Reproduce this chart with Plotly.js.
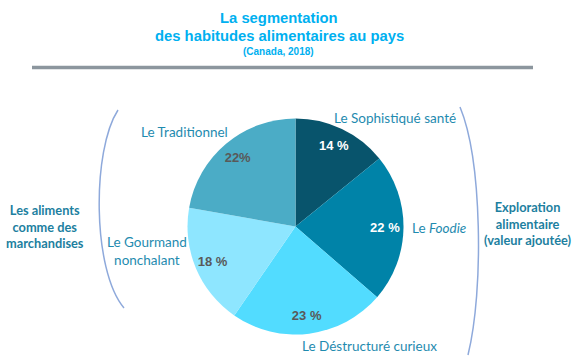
<!DOCTYPE html>
<html><head><meta charset="utf-8">
<script src="https://cdn.plot.ly/plotly-3.0.1.min.js"></script>
<style>html,body{margin:0;padding:0;background:#fff;}#chart{width:580px;height:361px;}</style>
</head><body><div id="chart"></div>
<script>
var segments = ['Le Sophistiqué santé', 'Le Foodie', 'Le Déstructuré curieux', 'Le Gourmand nonchalant', 'Le Traditionnel'];
var shares = [14, 22, 23, 18, 22];
var pctLabels = ['14 %', '22 %', '23 %', '18 %', '22%'];
var sliceColors = ['#08546C', '#0083A8', '#52DCFF', '#8EE6FF', '#4BACC6'];
var pctColors = ['#FFFFFF', '#FFFFFF', '#595959', '#595959', '#595959'];
var W = 580, H = 361;
function px(x){return x/W;}
function py(y){return 1 - y/H;}
var cx = 295.5, cy = 226.5, R = 108;
var pieDomain = {x: [px(cx - R), px(cx + R)], y: [py(cy + R), py(cy - R)]};

var slices = {
  type: 'pie', values: shares, labels: segments,
  textinfo: 'none', sort: false, direction: 'clockwise', rotation: 0,
  marker: {colors: sliceColors, line: {width: 0}},
  hoverinfo: 'label+percent', showlegend: false, domain: pieDomain
};
// transparent ring on top: carries the percentage labels near the rim
var pctRing = {
  type: 'pie', values: shares, labels: segments, text: pctLabels,
  textinfo: 'text', textposition: 'inside', insidetextorientation: 'horizontal',
  sort: false, direction: 'clockwise', rotation: 0, hole: 0.66,
  marker: {colors: shares.map(function(){return 'rgba(0,0,0,0)';}), line: {width: 0}},
  insidetextfont: {family: 'Liberation Sans, Arial, sans-serif', size: 13, color: pctColors, weight: 'bold'},
  hoverinfo: 'skip', showlegend: false, domain: pieDomain
};

var labFont = {family: 'Lato, sans-serif', size: 13.5, color: '#1F8BAF'};
var sideFont = {family: 'Lato, sans-serif', size: 12.8, color: '#1D7FA0', weight: 'bold'};
var titleFont = {family: 'Liberation Sans, Arial, sans-serif', size: 14.8, color: '#00B0F0', weight: 'bold'};
function ann(t, x, y, f, anchor){return {text: t, x: px(x), y: py(y), xref: 'paper', yref: 'paper', showarrow: false, font: f, xanchor: anchor || 'center', yanchor: 'middle'};}

var annotations = [
  ann('La segmentation', 279, 18, titleFont),
  ann('des habitudes alimentaires au pays', 279, 35.5, titleFont),
  ann('(Canada, 2018)', 278, 52, {family: 'Liberation Sans, Arial, sans-serif', size: 10, color: '#00B0F0', weight: 'bold'}),
  ann(segments[0], 332, 118, labFont, 'left'),
  ann('Le <i>Foodie</i>', 410, 228, labFont, 'left'),
  ann(segments[2], 300, 346, labFont, 'left'),
  ann('Le Gourmand<br>nonchalant', 147, 251, labFont),
  ann(segments[4], 184, 131.5, labFont),
  ann('Les aliments<br>comme des<br>marchandises', 45, 226, sideFont),
  ann('Exploration<br>alimentaire<br>(valeur ajoutée)', 528, 223, sideFont)
];

function cubic(p){
  return 'M' + px(p[0]) + ',' + py(p[1]) + ' C' + px(p[2]) + ',' + py(p[3]) + ' ' + px(p[4]) + ',' + py(p[5]) + ' ' + px(p[6]) + ',' + py(p[7]);
}
var shapes = [
  {type: 'line', xref: 'paper', yref: 'paper', x0: px(32), x1: px(533), y0: py(67.5), y1: py(67.5), line: {color: '#8C969E', width: 3.5}},
  {type: 'path', xref: 'paper', yref: 'paper', path: cubic([118,110, 92,150, 92,270, 124,308]), line: {color: '#8EA9DB', width: 1.5}},
  {type: 'path', xref: 'paper', yref: 'paper', path: cubic([460,107, 482,160, 484,290, 468,355]), line: {color: '#8EA9DB', width: 1.5}}
];

var layout = {
  width: W, height: H, margin: {l: 0, r: 0, t: 0, b: 0},
  paper_bgcolor: '#fff', plot_bgcolor: '#fff',
  annotations: annotations, shapes: shapes, showlegend: false
};
Plotly.newPlot('chart', [slices, pctRing], layout, {displayModeBar: false, staticPlot: true});
</script></body></html>
